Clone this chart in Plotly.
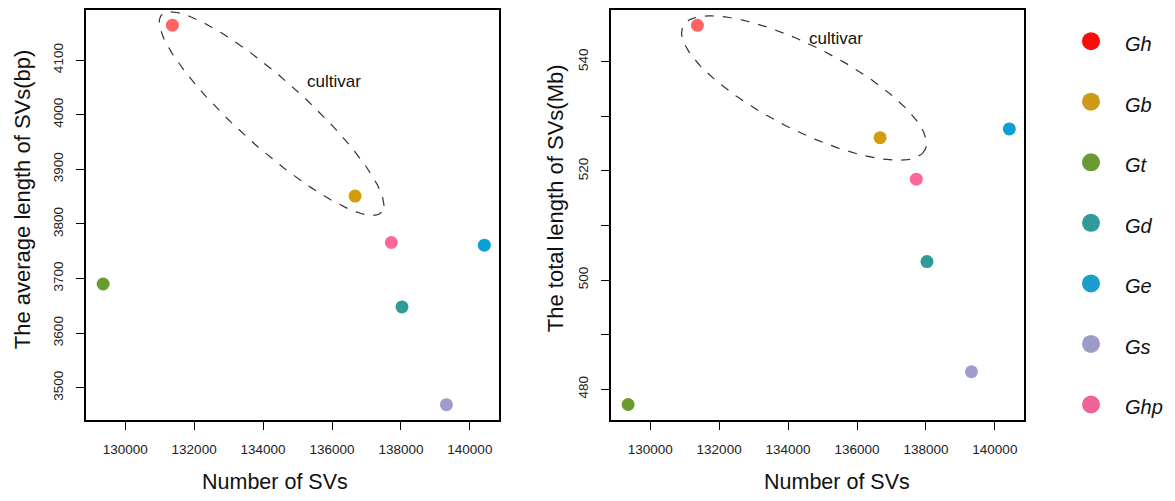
import numpy as np
import plotly.graph_objects as go

# ---------------- data ----------------
species = ["Gh", "Gb", "Gt", "Gd", "Ge", "Gs", "Ghp"]
num_svs = [131370, 136670, 129360, 138030, 140420, 139320, 137720]
avg_len_bp = [4164, 3851, 3690, 3648, 3761, 3469, 3766]
total_len_mb = [546.7, 526.1, 477.2, 503.4, 527.7, 483.2, 518.5]

point_colors = ["#FF6363", "#D39C08", "#6A9B30", "#2F9A96", "#08A0D6", "#9E9DCB", "#FF6699"]
legend_colors = ["#FF0A0A", "#CF9A1A", "#6A9A33", "#319B9B", "#1C9CCB", "#9B9BC8", "#F2629A"]

x_ticks = [130000, 132000, 134000, 136000, 138000, 140000]
left_y_ticks = [3500, 3600, 3700, 3800, 3900, 4000, 4100]
right_y_ticks = [480, 490, 500, 510, 520, 530, 540]
right_y_labels = ["480", "", "500", "", "520", "", "540"]

x_title = "Number of SVs"
left_y_title = "The average length of SVs(bp)"
right_y_title = "The total length of SVs(Mb)"
group_label = "cultivar"

# ---------------- layout constants ----------------
OFF = 8  # page body margin
W, H = 1175 - OFF, 501 - OFF
FONT = "Liberation Sans, Arial, Helvetica, sans-serif"
x_range = [128863, 140845]
left_y_range = [3440.3, 4191.8]
right_y_range = [474.3, 549.5]
left_dom_px = (86, 499)
right_dom_px = (611, 1024)
top_px, bottom_px = 8, 420


def px_x(p):
    return (p - OFF) / W


def px_y(p):
    return 1 - (p - OFF) / H


xdom_l = [px_x(left_dom_px[0]), px_x(left_dom_px[1])]
xdom_r = [px_x(right_dom_px[0]), px_x(right_dom_px[1])]
ydom = [px_y(bottom_px), px_y(top_px)]

fig = go.Figure()

# scatter points
fig.add_trace(go.Scatter(x=num_svs, y=avg_len_bp, mode="markers",
                         marker=dict(size=13, color=point_colors, line=dict(width=0)),
                         xaxis="x", yaxis="y", showlegend=False, hoverinfo="skip"))
fig.add_trace(go.Scatter(x=num_svs, y=total_len_mb, mode="markers",
                         marker=dict(size=13, color=point_colors, line=dict(width=0)),
                         xaxis="x2", yaxis="y2", showlegend=False, hoverinfo="skip"))


# dashed ellipses (annotation shapes), parameters: center in data units, semi-axes in px, angle deg
def ellipse(cx, cy, a_px, b_px, ang_deg, xr, yr, dom_px):
    xs = (dom_px[1] - dom_px[0]) / (xr[1] - xr[0])
    ys = (bottom_px - top_px) / (yr[1] - yr[0])
    t = np.linspace(0, 2 * np.pi, 200)
    th = np.deg2rad(ang_deg)
    dx = a_px * np.cos(t) * np.cos(th) - b_px * np.sin(t) * np.sin(th)
    dy = a_px * np.cos(t) * np.sin(th) + b_px * np.sin(t) * np.cos(th)
    return cx + dx / xs, cy - dy / ys


ex, ey = ellipse(134246, 4002, 148, 34, 42, x_range, left_y_range, left_dom_px)
fig.add_trace(go.Scatter(x=ex, y=ey, mode="lines", line=dict(color="#333333", width=1.2, dash="dash"),
                         xaxis="x", yaxis="y", showlegend=False, hoverinfo="skip"))
ex2, ey2 = ellipse(134463, 535.2, 136, 42, 27.2, x_range, right_y_range, right_dom_px)
fig.add_trace(go.Scatter(x=ex2, y=ey2, mode="lines", line=dict(color="#333333", width=1.2, dash="dash"),
                         xaxis="x2", yaxis="y2", showlegend=False, hoverinfo="skip"))

# legend as its own hidden axis (pixel units)
leg_idx = list(range(len(species)))
fig.add_trace(go.Scatter(x=[1091] * len(species), y=leg_idx, mode="markers",
                         marker=dict(size=18, color=legend_colors, line=dict(width=0)),
                         xaxis="x3", yaxis="y3", showlegend=False, hoverinfo="skip"))

annotations = []
for i, s in enumerate(species):
    annotations.append(dict(x=1123, y=i, xref="x3", yref="y3", text=f"<i>{s}</i>", showarrow=False,
                            xanchor="left", yanchor="middle", yshift=-3,
                            font=dict(family=FONT, size=20, color="#111111")))

# cultivar labels
annotations.append(dict(x=136069, y=4061.7, xref="x", yref="y", text=group_label, showarrow=False,
                        xanchor="center", yanchor="middle",
                        font=dict(family=FONT, size=17, color="#111111")))
annotations.append(dict(x=135395, y=544.2, xref="x2", yref="y2", text=group_label, showarrow=False,
                        xanchor="center", yanchor="middle",
                        font=dict(family=FONT, size=17, color="#111111")))

# axis titles
for xc, yc, txt, ang, sz in [(274.5, 482, x_title, 0, 21.5), (836.5, 482, x_title, 0, 21.5),
                             (22, 198, left_y_title, -90, 22), (555, 197, right_y_title, -90, 22)]:
    annotations.append(dict(x=px_x(xc), y=px_y(yc), xref="paper", yref="paper", text=txt,
                            textangle=ang, showarrow=False, xanchor="center", yanchor="middle",
                            font=dict(family=FONT, size=sz, color="#111111")))

axis_common = dict(showgrid=False, zeroline=False, showline=True, mirror=True, linecolor="black",
                   linewidth=1.5, ticks="outside", ticklen=8, tickwidth=1.2, tickcolor="black",
                   tickfont=dict(family=FONT, size=13.5, color="#222222"))

fig.update_layout(
    width=W, height=H, margin=dict(l=0, r=0, t=0, b=0),
    paper_bgcolor="white", plot_bgcolor="white",
    annotations=annotations,
    xaxis=dict(domain=xdom_l, range=x_range, anchor="y", tickvals=x_ticks,
               ticktext=[str(v) for v in x_ticks], ticklabelstandoff=8, **axis_common),
    yaxis=dict(domain=ydom, range=left_y_range, anchor="x", tickvals=left_y_ticks,
               ticktext=[str(v) for v in left_y_ticks], tickangle=-90, ticklabelstandoff=8, **axis_common),
    xaxis2=dict(domain=xdom_r, range=x_range, anchor="y2", tickvals=x_ticks,
                ticktext=[str(v) for v in x_ticks], ticklabelstandoff=8, **axis_common),
    yaxis2=dict(domain=ydom, range=right_y_range, anchor="x2", tickvals=right_y_ticks,
                ticktext=right_y_labels, tickangle=-90, ticklabelstandoff=8, **axis_common),
    xaxis3=dict(domain=[px_x(1040), 1.0], range=[1040, 1175], visible=False, fixedrange=True),
    yaxis3=dict(domain=[0, 1], range=[(501 - 39.3) / 60.8, (OFF - 39.3) / 60.8], visible=False,
                fixedrange=True, anchor="x3"),
)

fig.write_html("out.html")
